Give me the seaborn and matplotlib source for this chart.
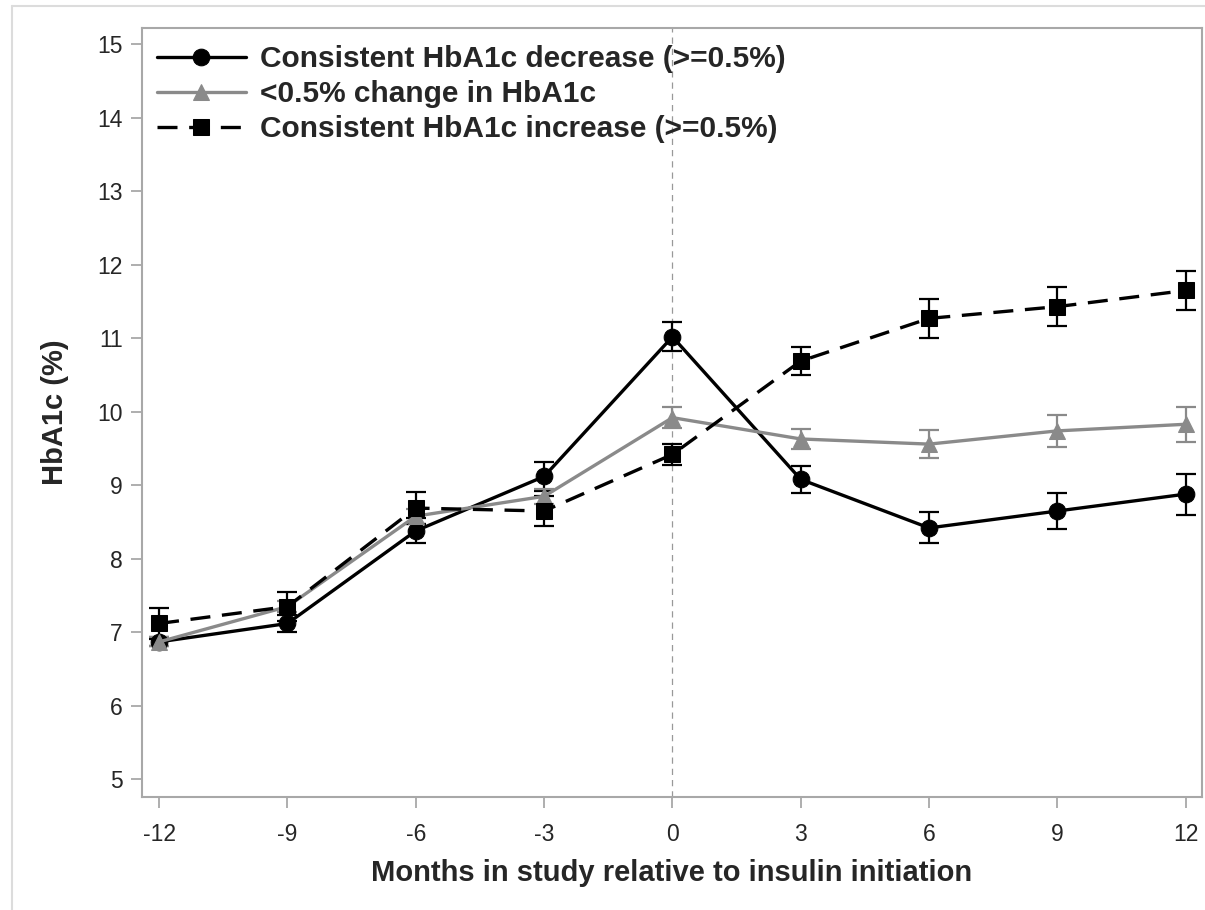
import matplotlib
matplotlib.use("Agg")
import matplotlib.pyplot as plt
import seaborn as sns
import numpy as np
import pandas as pd

# ---- data ----
months = [-12, -9, -6, -3, 0, 3, 6, 9, 12]
decrease = [6.87, 7.12, 8.38, 9.12, 11.02, 9.08, 8.42, 8.65, 8.88]
decrease_err = [0.06, 0.12, 0.17, 0.20, 0.20, 0.18, 0.21, 0.24, 0.28]
nochange = [6.87, 7.35, 8.58, 8.85, 9.92, 9.63, 9.56, 9.74, 9.83]
nochange_err = [0.06, 0.08, 0.10, 0.10, 0.14, 0.13, 0.19, 0.22, 0.24]
increase = [7.12, 7.35, 8.69, 8.65, 9.42, 10.69, 11.27, 11.43, 11.65]
increase_err = [0.21, 0.20, 0.22, 0.20, 0.14, 0.19, 0.26, 0.27, 0.26]

labels = ["Consistent HbA1c decrease (>=0.5%)",
          "<0.5% change in HbA1c",
          "Consistent HbA1c increase (>=0.5%)"]
x_ticks = [-12, -9, -6, -3, 0, 3, 6, 9, 12]
y_ticks = [5, 6, 7, 8, 9, 10, 11, 12, 13, 14, 15]

sns.set_theme(style="white")
plt.rcParams["font.family"] = ["Liberation Sans", "DejaVu Sans"]

fig = plt.figure(figsize=(12.05, 9.10), dpi=100)
ax = fig.add_axes([142 / 1205, 1 - 797 / 910, (1202 - 142) / 1205, (797 - 28) / 910])

# outer light border of the figure
fig.add_artist(plt.Line2D([12 / 1205, 12 / 1205], [0, 1 - 6 / 910], transform=fig.transFigure,
                          color="#dcdcdc", lw=1.5))
fig.add_artist(plt.Line2D([12 / 1205, 1], [1 - 6 / 910, 1 - 6 / 910], transform=fig.transFigure,
                          color="#dcdcdc", lw=1.5))

gray = "#8a8a8a"
series = [
    (decrease, decrease_err, "black", "o", "-", 12, labels[0]),
    (nochange, nochange_err, gray, "^", "-", 12, labels[1]),
    (increase, increase_err, "black", "s", (0, (6, 3.5)), 11, labels[2]),
]

ax.axvline(0, color="#999999", lw=0.9, ls=(0, (5, 4)), zorder=1)

for vals, err, col, mk, ls, ms, lab in series:
    ax.errorbar(months, vals, yerr=err, fmt="none", ecolor=col, elinewidth=1.6,
                capsize=7, capthick=1.6, zorder=2)
    sns.lineplot(x=months, y=vals, ax=ax, color=col, marker=mk, markersize=ms,
                 markeredgecolor=col, linewidth=2.4, linestyle=ls, label=lab, zorder=3)

ax.set_xlim(-12.4, 12.38)
ax.set_ylim(4.76, 15.22)
ax.set_xticks(x_ticks)
ax.set_xticklabels([str(v) for v in x_ticks])
ax.set_yticks(y_ticks)
ax.set_yticklabels([str(v) for v in y_ticks])

for s in ax.spines.values():
    s.set_color("#a8a8a8")
    s.set_linewidth(1.5)

ax.tick_params(axis="both", direction="out", length=8, width=1.3, color="#a8a8a8",
               labelsize=16.5, labelcolor="#262626", left=True, bottom=True)
ax.tick_params(axis="x", pad=11)
ax.tick_params(axis="y", pad=6)

ax.set_xlabel("Months in study relative to insulin initiation", fontsize=21,
              fontweight="bold", labelpad=9)
ax.set_ylabel("HbA1c (%)", fontsize=21, fontweight="bold", labelpad=20)

leg = ax.legend(loc="upper left", bbox_to_anchor=(-0.006, 1.005), frameon=False,
                prop={"size": 21.5, "weight": "bold"}, handlelength=3.0,
                labelspacing=0.24, handletextpad=0.45, borderaxespad=0.3)

fig.savefig("out.png", dpi=100)
